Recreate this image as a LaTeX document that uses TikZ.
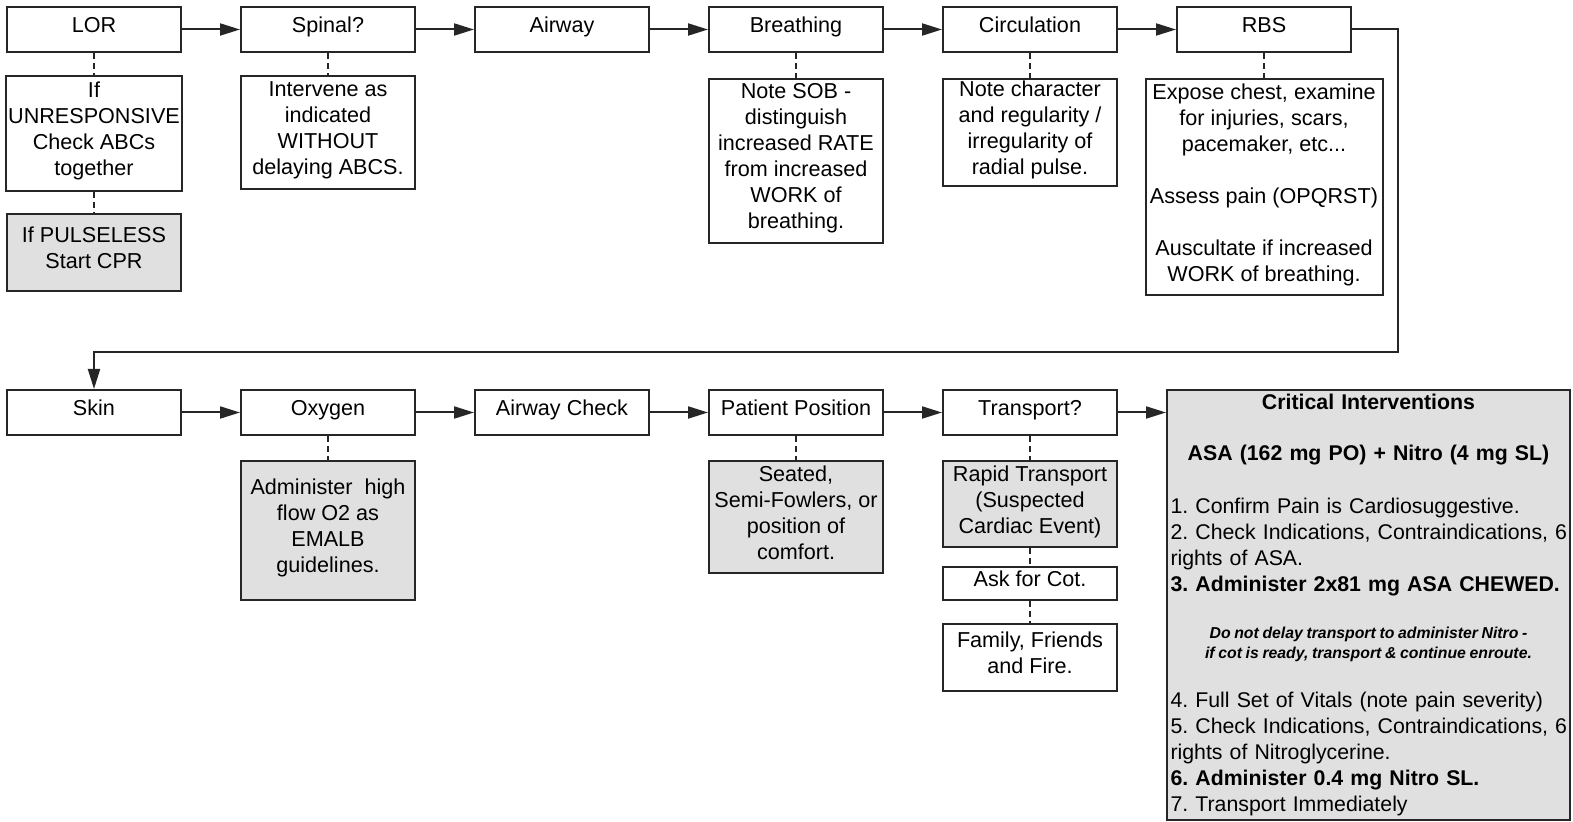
\documentclass[tikz,border=0pt]{standalone}
\usepackage{fontspec}
\setmainfont{Liberation Sans}
\usetikzlibrary{positioning}
\usetikzlibrary{arrows.meta}

\tikzset{
  stepbox/.style={draw=black!85, line width=1pt, rectangle, align=center,
    minimum width=87pt, minimum height=22.5pt, inner xsep=1pt, inner ysep=1pt,
    font=\fontsize{10.8}{13}\selectfont,
    execute at begin node={\rule{0pt}{8pt}},
    execute at end node={\rule[-4.8pt]{0pt}{4.8pt}}},
  shadebox/.style={stepbox, fill=black!12},
  critbox/.style={draw=black!85, line width=1pt, rectangle, fill=black!12,
    text width=198pt, minimum height=214.5pt,
    inner xsep=1.75pt, inner ysep=2pt,
    font=\fontsize{10.65}{13}\selectfont\frenchspacing},
  flow/.style={draw=black!85, line width=1pt, -{Triangle[length=10pt,width=6pt]}},
  link/.style={draw=black!85, line width=1pt, dash pattern=on 3pt off 2pt},
}

\begin{document}
\begin{tikzpicture}
  \useasboundingbox (0,0) rectangle (786.5pt,-411pt);

  % Top row
  \node[stepbox, anchor=north west] (lor) at (3pt,-3pt) {LOR};
  \node[stepbox, right=29pt of lor] (spinal) {Spinal?};
  \node[stepbox, right=29pt of spinal] (airway) {Airway};
  \node[stepbox, right=29pt of airway] (breath) {Breathing};
  \node[stepbox, right=29pt of breath] (circ) {Circulation};
  \node[stepbox, right=29pt of circ] (rbs) {RBS};

  % Notes under top row
  \node[stepbox, minimum height=57.5pt, below=11pt of lor] (lorsub)
    {If\\UNRESPONSIVE\\Check ABCs\\together};
  \node[shadebox, minimum height=38.5pt, below=10.5pt of lorsub] (cpr)
    {If PULSELESS\\Start CPR};
  \node[stepbox, minimum height=56.5pt, below=11pt of spinal] (spinalsub)
    {Intervene as\\indicated\\WITHOUT\\delaying ABCS.};
  \node[stepbox, minimum height=82pt, below=12.5pt of breath] (breathsub)
    {Note SOB -\\distinguish\\increased RATE\\from increased\\WORK of\\breathing.};
  \node[stepbox, minimum height=52pt, below=12.5pt of circ] (circsub)
    {Note character\\and regularity /\\irregularity of\\radial pulse.};
  \node[stepbox, minimum width=118.5pt, minimum height=108pt, below=12.5pt of rbs] (rbssub)
    {Expose chest, examine\\for injuries, scars,\\pacemaker, etc...\\[13pt]
     Assess pain (OPQRST)\\[13pt]Auscultate if increased\\WORK of breathing.};

  % Bottom row
  \node[stepbox, anchor=north west] (skin) at (3pt,-194.5pt) {Skin};
  \node[stepbox, right=29pt of skin] (oxygen) {Oxygen};
  \node[stepbox, right=29pt of oxygen] (airchk) {Airway Check};
  \node[stepbox, right=29pt of airchk] (patpos) {Patient Position};
  \node[stepbox, right=29pt of patpos] (transport) {Transport?};
  \node[critbox, right=24pt of transport.north east, anchor=north west] (crit) {%
    {\centering\bfseries Critical Interventions\\[12.5pt]
     ASA (162 mg PO) + Nitro (4 mg SL)\par}
    \vspace{13.5pt}
    {\raggedright
    1. Confirm Pain is Cardiosuggestive.\\
    \mbox{2. Check Indications, Contraindications, 6}\\
    rights of ASA.\\
    \textbf{3. Administer 2x81 mg ASA CHEWED.}\par}
    \vspace{13.5pt}
    {\centering\fontsize{7.9}{10}\selectfont\bfseries\itshape\spaceskip=0.23em
     Do not delay transport to administer Nitro -\\
     if cot is ready, transport \& continue enroute.\par}
    \vspace{11.5pt}
    {\raggedright
    4. Full Set of Vitals (note pain severity)\\
    \mbox{5. Check Indications, Contraindications, 6}\\
    rights of Nitroglycerine.\\
    \textbf{6. Administer 0.4 mg Nitro SL.}\\
    7. Transport Immediately\par}};

  % Notes under bottom row
  \node[shadebox, minimum height=69.5pt, below=12pt of oxygen] (oxysub)
    {Administer~ high\\flow O2 as\\EMALB\\guidelines.};
  \node[shadebox, minimum height=56pt, below=12pt of patpos] (possub)
    {Seated,\\Semi-Fowlers, or\\position of\\comfort.};
  \node[shadebox, minimum height=43pt, below=12pt of transport] (transsub)
    {Rapid Transport\\(Suspected\\Cardiac Event)};
  \node[stepbox, minimum height=16.5pt, below=9pt of transsub] (cot) {Ask for Cot.};
  \node[stepbox, minimum height=33.5pt, below=11pt of cot] (family)
    {Family, Friends\\and Fire.};

  % Flow
  \draw[flow] (lor) -- (spinal);
  \draw[flow] (spinal) -- (airway);
  \draw[flow] (airway) -- (breath);
  \draw[flow] (breath) -- (circ);
  \draw[flow] (circ) -- (rbs);
  \coordinate (turn) at ([xshift=23pt]rbs.east);
  \coordinate (drop) at ([yshift=18.5pt]skin.north);
  \draw[flow] (rbs.east) -- (turn) |- (drop) -- (skin.north);
  \draw[flow] (skin) -- (oxygen);
  \draw[flow] (oxygen) -- (airchk);
  \draw[flow] (airchk) -- (patpos);
  \draw[flow] (patpos) -- (transport);
  \draw[flow] (transport.east) -- (transport.east -| crit.west);

  % Notes
  \draw[link] (lor) -- (lorsub);
  \draw[link] (lorsub) -- (cpr);
  \draw[link] (spinal) -- (spinalsub);
  \draw[link] (breath) -- (breathsub);
  \draw[link] (circ) -- (circsub);
  \draw[link] (rbs) -- (rbssub);
  \draw[link] (oxygen) -- (oxysub);
  \draw[link] (patpos) -- (possub);
  \draw[link] (transport) -- (transsub);
  \draw[link] (transsub) -- (cot);
  \draw[link] (cot) -- (family);
\end{tikzpicture}
\end{document}
